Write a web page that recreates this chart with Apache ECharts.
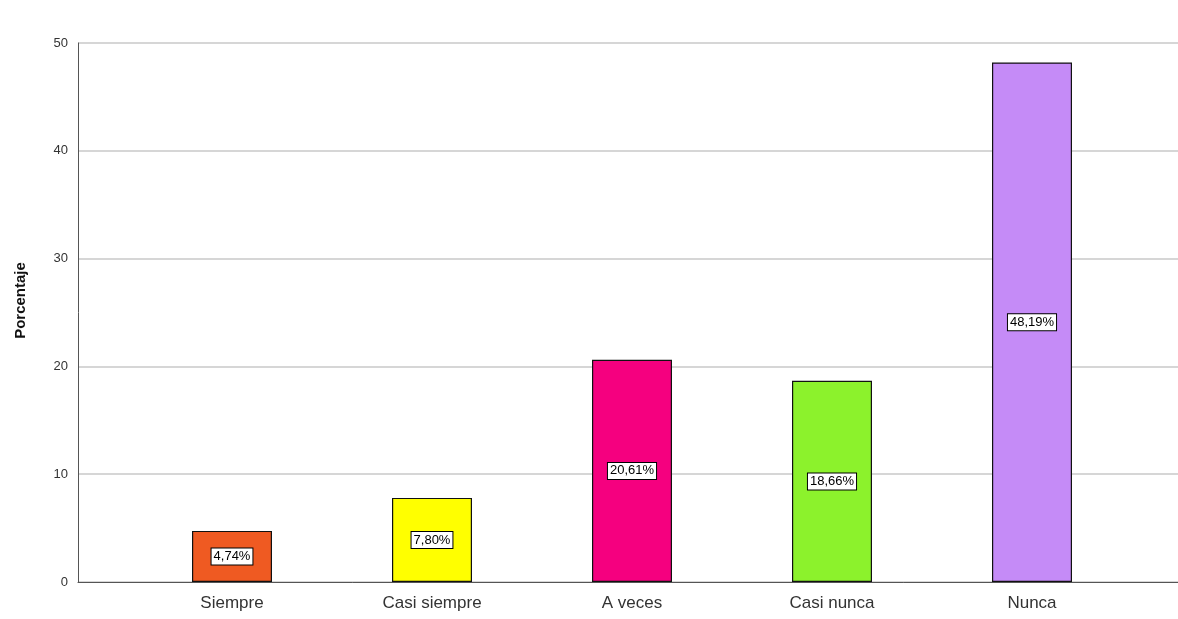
<!DOCTYPE html>
<html>
<head>
<meta charset="utf-8">
<script src="https://cdn.jsdelivr.net/npm/echarts@6/dist/echarts.min.js"></script>
<style>
  html, body { margin: 0; padding: 0; background: #fff; }
  #chart { width: 1178px; height: 619px; }
</style>
</head>
<body>
<div id="chart"></div>
<script>
// categorias y valores (porcentaje)
var categorias = ['Siempre', 'Casi siempre', 'A veces', 'Casi nunca', 'Nunca'];
var porcentajes = [4.74, 7.80, 20.61, 18.66, 48.19];
var colores = ['#EF5A22', '#FFFF00', '#F5007F', '#8CF22C', '#C58BF7'];
var ticksY = [0, 10, 20, 30, 40, 50];

function draw_chart(){
    var myChart = echarts.init(document.getElementById('chart'));

    var datos = [];
    for (var i = 0; i < porcentajes.length; i++) {
        datos.push({ value: porcentajes[i], itemStyle: { color: colores[i] } });
    }

    var option = {
        backgroundColor: '#fff',
        animation: false,
        textStyle: { fontFamily: 'Liberation Sans, Arial, sans-serif' },
        grid: [
            // marco completo: eje y + lineas de rejilla
            { left: 78, right: 0, top: 43, bottom: 37 },
            // zona de las barras
            { left: 132, right: 46, top: 43, bottom: 37 }
        ],
        xAxis: [
            {
                gridIndex: 0, type: 'value', min: 0, max: 1,
                axisLine: { show: true, lineStyle: { color: '#555', width: 1 } },
                axisTick: { show: false }, axisLabel: { show: false }, splitLine: { show: false }
            },
            {
                gridIndex: 1, type: 'category', data: categorias,
                axisLine: { show: false }, axisTick: { show: false },
                axisLabel: { color: '#333', fontSize: 17, margin: 13 }
            }
        ],
        yAxis: [
            {
                gridIndex: 0, type: 'value',
                min: ticksY[0], max: ticksY[ticksY.length - 1], interval: 10,
                name: 'Porcentaje', nameLocation: 'middle', nameGap: 50,
                nameTextStyle: { fontSize: 15, fontWeight: 'bold', color: '#111', padding: [0, 0, 0, 24] },
                axisLine: { show: true, lineStyle: { color: '#555', width: 1 } },
                axisTick: { show: false },
                axisLabel: { color: '#333', fontSize: 13, margin: 10 },
                splitLine: { show: true, lineStyle: { color: '#c8c8c8', width: 1.5 } }
            },
            {
                gridIndex: 1, type: 'value', min: 0, max: 50, show: false
            }
        ],
        series: [
            {
                type: 'bar',
                xAxisIndex: 1, yAxisIndex: 1,
                barWidth: 80,
                data: datos,
                itemStyle: { borderColor: '#111', borderWidth: 1.2 },
                label: {
                    show: true,
                    position: 'inside',
                    color: '#000',
                    fontSize: 13,
                    backgroundColor: '#fff',
                    borderColor: '#000',
                    borderWidth: 1,
                    padding: [2, 2, 1, 2],
                    formatter: function(p){
                        return p.value.toFixed(2).replace('.', ',') + '%';
                    }
                }
            }
        ]
    };

    myChart.setOption(option);
}

draw_chart();
</script>
</body>
</html>
